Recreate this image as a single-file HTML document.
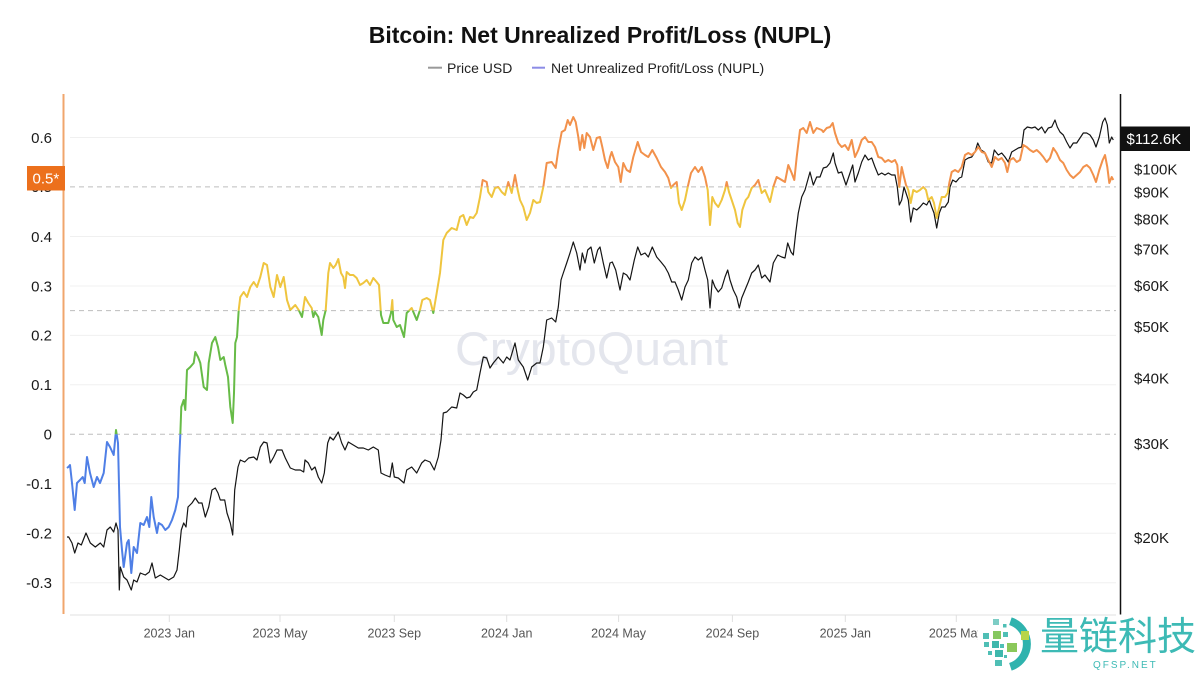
<!DOCTYPE html>
<html>
<head>
<meta charset="utf-8">
<style>
  html,body{margin:0;padding:0;background:#fff;}
  svg{display:block;}
  text{font-family:"Liberation Sans",Arial,sans-serif;}
</style>
</head>
<body>
<svg width="1200" height="675" viewBox="0 0 1200 675" xmlns="http://www.w3.org/2000/svg">
  <defs>
    <clipPath id="cOr"><rect x="0" y="0" width="1200" height="186.9"/></clipPath>
    <clipPath id="cYe"><rect x="0" y="186.9" width="1200" height="123.7"/></clipPath>
    <clipPath id="cGr"><rect x="0" y="310.6" width="1200" height="123.7"/></clipPath>
    <clipPath id="cBl"><rect x="0" y="434.3" width="1200" height="300"/></clipPath>
    <polyline id="nupl" fill="none" stroke-width="2" stroke-linejoin="round" points="67,468 68.7,466.7 70,465 72,483 74.7,510 77,483 80,480 82.7,477 84.7,483 87,457 90,473 93.7,487 97,477 100,483 103.7,473 107,442 110,447 113.7,455 116,430 118,443 120,527 122,550 123.7,567 127,543 128.7,540 131.3,573 133.7,547 137,553 140.3,523 143.7,525 147,517 149.3,527 151.3,497 153.7,517 157,533 158.7,523 162,525 165.3,530 168.7,527 172,520 175.3,510 178,497 179.3,457 180.3,435 181.3,407 183.7,400 185.3,410 187,370 190.3,367 193.7,363 195.3,352 198,357 200.3,363 203.7,387 207,390 208.7,363 212,343 215.3,337 218,347 220.3,360 223.7,357 225.3,365 228,377 230.3,407 232.7,423 234,393 235.3,343 237,337 238.7,310 240.3,297 243.7,292 247,297 250.3,287 253.7,282 257,287 260.3,277 263.7,263 267,265 270.3,287 273.7,297 277,275 280.3,287 283.7,277 287,300 290.3,310 295.3,305 298.7,310 302,317 305,297 308.3,303 311.7,308 313.3,317 315,312 318.3,317 321.7,335 323.3,320 325.7,310 328.3,273 330,263 333.3,268 335.7,265 338.3,259 341,273 343.3,277 345,288 346.7,272 350,275 353.3,275 356.7,278 360,285 363.3,283 366.7,280 370,285 373.3,278 376.7,282 379,285 381,315 383.3,323 388.3,323 391,313 392.3,300 393.3,320 396.7,327 400,325 404,337 406.7,313 411.7,308 416.7,320 420,310 422.3,300 426.7,298 430,300 433.3,313 436.7,293 440,273 443.3,240 446.7,233 451.7,228 456.7,230 460,217 463.3,215 466.7,225 470,217 473.3,218 476.7,213 480,197 482.7,180 486.7,182 488.3,192 491.7,197 495,188 498.3,187 501.7,192 505,195 508.3,182 511.7,193 515,175 517.7,190 520,200 523.3,207 526.7,220 530,213 533.3,200 536.7,203 540,202 543.3,187 546.7,163 551.7,162 555.7,168 558.3,150 561.7,132 565,130 567.7,120 570,125 573.3,117 575.7,122 578.3,137 580,150 582.3,135 584.3,148 586.7,133 590,137 593.3,150 596.7,138 600,137 602.3,147 605,160 607.7,168 610,157 611.7,152 615,162 618.3,167 620.7,182 623.3,163 626.7,170 630,172 633.3,157 637.7,142 641,152 645,155 648.3,157 652.3,150 656.7,158 661,167 665,172 668.3,178 671,188 673.3,185 676.7,182 679,203 681.7,210 685,200 687.7,187 691,173 695,167 698.3,172 701.7,167 705,177 707.7,190 710,225 712.3,197 715,203 718.3,207 721.7,200 725,190 726.7,182 729,192 731.7,200 735,210 737.7,223 740,227 742.3,210 745.7,200 748.3,197 751.7,188 755,185 758.3,180 761.7,193 765,190 770,202 773.3,187 776.7,177 781.7,180 785,182 788.3,165 791.7,173 794.3,180 796.7,157 800,130 803.3,128 806.7,133 810,122 813.3,133 816.7,128 821.7,130 823.3,132 826.7,128 830,127 832.7,123 835,133 838.3,143 841.7,147 845,145 848.3,150 851.7,140 855,157 858.3,150 861.7,140 865,137 868.3,142 871.7,142 875,147 878.3,157 881.7,158 885,162 888.3,160 891.7,162 895,160 897.3,165 899.3,187 901.7,167 904,177 906,185 908.3,190 910.7,203 913.3,190 916.7,192 920,190 923.3,187 926,190 928.3,200 931.7,197 934,203 936.7,218 939.3,207 941.7,197 945,197 947.7,193 949.3,183 951.7,172 955,170 958.3,172 961.7,167 965,155 968.3,153 971.7,155 975,152 978.3,147 981.7,152 985,153 988.3,160 991.7,167 995,157 998.3,160 1001.7,158 1005,163 1007.3,172 1010,160 1013.3,158 1016.7,162 1020,160 1023.3,145 1026.7,147 1030,150 1033.3,152 1036.7,150 1040,153 1043.3,157 1046.7,162 1050,158 1053.3,148 1056.7,153 1060,160 1063.3,163 1066.7,170 1070,175 1073.3,178 1076.7,175 1080,172 1083.3,167 1086.7,165 1090,168 1093.3,175 1096,182 1099.3,170 1102.7,160 1105,155 1107.3,167 1109.3,183 1111.7,177 1113.3,180"/>
  </defs>

  <!-- Title & legend -->
  <text x="600" y="43" text-anchor="middle" font-size="23" font-weight="bold" fill="#111">Bitcoin: Net Unrealized Profit/Loss (NUPL)</text>
  <line x1="428" y1="67.7" x2="442" y2="67.7" stroke="#999" stroke-width="2"/>
  <text x="447" y="73" font-size="14" fill="#222">Price USD</text>
  <line x1="532" y1="67.7" x2="545" y2="67.7" stroke="#8c8ce6" stroke-width="2"/>
  <text x="551" y="73" font-size="14" fill="#222">Net Unrealized Profit/Loss (NUPL)</text>

  <!-- grid lines -->
  <g stroke="#f0f0f0" stroke-width="1">
    <line x1="70" y1="137.5" x2="1116" y2="137.5"/>
    <line x1="70" y1="236.5" x2="1116" y2="236.5"/>
    <line x1="70" y1="286" x2="1116" y2="286"/>
    <line x1="70" y1="335.4" x2="1116" y2="335.4"/>
    <line x1="70" y1="384.8" x2="1116" y2="384.8"/>
    <line x1="70" y1="483.8" x2="1116" y2="483.8"/>
    <line x1="70" y1="533.2" x2="1116" y2="533.2"/>
    <line x1="70" y1="582.7" x2="1116" y2="582.7"/>
  </g>
  <g stroke="#bdbdbd" stroke-width="1" stroke-dasharray="5,4">
    <line x1="70" y1="186.9" x2="1116" y2="186.9"/>
    <line x1="70" y1="310.6" x2="1116" y2="310.6"/>
    <line x1="70" y1="434.3" x2="1116" y2="434.3"/>
  </g>

  <!-- watermark -->
  <text x="455" y="365" font-size="47" fill="#e4e6ed" textLength="273" lengthAdjust="spacingAndGlyphs">CryptoQuant</text>

  <!-- price -->
  <polyline fill="none" stroke="#151515" stroke-width="1.2" stroke-linejoin="round" points="67,537 68.7,537 72,543 74.7,553 78,543 81.3,545 86,533 90.3,543 95.3,547 100.3,543 103.7,547 107,530 110.3,527 113.7,532 116,523 118,530 119.3,590 120.3,567 123.7,577 127,580 131.3,590 133.7,580 137,582 140.3,573 145.3,575 149.3,572 152,563 155.3,578 160.3,575 165.3,578 168.7,580 173.7,577 177,570 179.3,550 181.3,530 183.7,523 186,527 188,507 192,503 195.3,498 198.7,503 202,503 205.3,517 208.7,507 212,490 215.3,488 218,493 220.3,500 224.7,500 227,513 230.3,523 232.7,535 234.7,490 238,467 240.3,460 244.7,462 248.7,458 253.7,457 257,460 260.3,447 263.7,442 267,443 270.3,463 273.7,457 277,450 282,450 285.3,458 290.3,468 295.3,470 300.3,470 303.7,472 305,460 308.3,463 311.7,470 315,467 318.3,477 321.7,483 324.3,473 327.7,443 330,437 333.3,440 338.3,432 341.7,443 345,450 348.3,442 353.3,445 358.3,448 363.3,448 368.3,450 373.3,447 378.3,450 381,473 385,475 390,477 392.3,463 394.3,477 398.3,478 404,483 406.7,470 411.7,467 416.7,473 421.7,463 425,460 430,462 434.3,470 438.3,457 441,440 443.3,413 446.7,412 451.7,407 456.7,408 460,393 463.3,395 466.7,398 470,397 473.3,392 476.7,390 480,373 483.3,357 486.7,358 490,368 493.3,363 498.3,357 503.3,363 506.7,357 510,360 515,343 518.3,360 523.3,367 527.7,380 531.7,367 536.7,363 540,363 543.3,347 546.7,320 551.7,318 555.7,322 558.3,307 561,280 563.3,273 566.7,263 570,253 573.3,242 576.7,253 580,270 582.3,253 585,263 587.7,250 591,247 594.3,263 597.7,250 600,247 603.3,263 606.7,278 610,263 612.3,262 615.7,270 620,290 623.3,273 626.7,275 630,280 634.3,260 637.7,247 641,255 645,253 648.3,257 652.3,247 656.7,257 661,262 665,267 668.3,273 671.7,282 675,282 678.3,290 681.7,300 685,287 688.3,280 691.7,263 695,257 698.3,260 701.7,257 705,270 707.7,280 710,308 712.3,280 715,287 718.3,292 721.7,288 725,277 727.7,270 730,280 733.3,290 736.7,297 739.3,308 741.7,298 745,290 748.3,282 751.7,273 755,270 758.3,265 761.7,278 765,275 770,282 773.3,263 777.7,255 781.7,257 785,258 787.7,243 791,252 793.3,255 795.7,233 798.3,213 801.7,197 805,190 810,172 813.3,185 816.7,177 820,177 823.3,168 826.7,167 830,163 833.3,153 835,163 838.3,173 841.7,172 846,185 850,173 852.7,165 855,182 858.3,173 861.7,162 865,155 868.3,160 871.7,158 875,167 878.3,175 881.7,173 885,175 888.3,173 891.7,175 895,175 897.3,187 899.3,205 901.7,200 904,187 906,193 908.3,200 910.7,222 913.3,208 916.7,210 920,207 923.3,203 926.7,205 929.3,200 931.7,207 934,213 936.7,228 939.3,213 941.7,207 945,207 948.3,202 950,187 952.7,180 956,182 959.3,178 961.7,177 965,160 968.3,158 971.7,157 975,152 977.7,143 981,150 984.3,152 988.3,162 991.7,163 994.3,150 998.3,155 1001.7,153 1005,157 1008.3,162 1011.7,152 1015,150 1018.3,148 1021.7,147 1024,130 1027.3,127 1031.7,128 1035,127 1038.3,130 1041.7,127 1045,133 1048.3,128 1051.7,127 1055,120 1057.3,127 1060,132 1063.3,135 1066.7,142 1070,148 1073.3,143 1076.7,143 1080,138 1083.3,133 1086.7,133 1090,135 1093.3,140 1096,147 1099.3,137 1102.7,122 1105,118 1107.3,125 1109.3,143 1111.7,137 1113.3,140"/>

  <!-- NUPL colored by zone -->
  <use href="#nupl" stroke="#f2914b" clip-path="url(#cOr)"/>
  <use href="#nupl" stroke="#efc53f" clip-path="url(#cYe)"/>
  <use href="#nupl" stroke="#67bb47" clip-path="url(#cGr)"/>
  <use href="#nupl" stroke="#4f7fe6" clip-path="url(#cBl)"/>

  <!-- left axis -->
  <line x1="63.5" y1="94" x2="63.5" y2="614" stroke="#f0a66c" stroke-width="2"/>
  <g font-size="15" fill="#1a1a1a" text-anchor="end">
    <text x="52" y="142.8">0.6</text>
    <text x="52" y="192.2">0.5</text>
    <text x="52" y="241.8">0.4</text>
    <text x="52" y="291.3">0.3</text>
    <text x="52" y="340.7">0.2</text>
    <text x="52" y="390.1">0.1</text>
    <text x="52" y="439.6">0</text>
    <text x="52" y="489.1">-0.1</text>
    <text x="52" y="538.5">-0.2</text>
    <text x="52" y="588">-0.3</text>
  </g>
  <rect x="27" y="166" width="38" height="24.5" fill="#ec701c"/>
  <text x="32.5" y="183.5" font-size="15" fill="#fff">0.5*</text>

  <!-- right axis -->
  <line x1="1120.5" y1="94" x2="1120.5" y2="614.5" stroke="#111" stroke-width="1.5"/>
  <g font-size="15" fill="#1a1a1a">
    <text x="1134" y="174.3">$100K</text>
    <text x="1134" y="197.3">$90K</text>
    <text x="1134" y="224.6">$80K</text>
    <text x="1134" y="254.6">$70K</text>
    <text x="1134" y="291">$60K</text>
    <text x="1134" y="332">$50K</text>
    <text x="1134" y="383.6">$40K</text>
    <text x="1134" y="448.8">$30K</text>
    <text x="1134" y="543">$20K</text>
  </g>
  <rect x="1121" y="126.5" width="69" height="24.5" fill="#111"/>
  <text x="1126.5" y="144.2" font-size="15" fill="#fff">$112.6K</text>

  <!-- x axis -->
  <line x1="70" y1="615" x2="1116" y2="615" stroke="#e0e0e0" stroke-width="1"/>
  <g stroke="#e0e0e0" stroke-width="1">
    <line x1="169.3" y1="615" x2="169.3" y2="622"/>
    <line x1="280" y1="615" x2="280" y2="622"/>
    <line x1="394.3" y1="615" x2="394.3" y2="622"/>
    <line x1="506.7" y1="615" x2="506.7" y2="622"/>
    <line x1="618.6" y1="615" x2="618.6" y2="622"/>
    <line x1="732.4" y1="615" x2="732.4" y2="622"/>
    <line x1="845.3" y1="615" x2="845.3" y2="622"/>
    <line x1="956.3" y1="615" x2="956.3" y2="622"/>
  </g>
  <g font-size="12.5" fill="#555" text-anchor="middle">
    <text x="169.3" y="637.5">2023 Jan</text>
    <text x="280" y="637.5">2023 May</text>
    <text x="394.3" y="637.5">2023 Sep</text>
    <text x="506.7" y="637.5">2024 Jan</text>
    <text x="618.6" y="637.5">2024 May</text>
    <text x="732.4" y="637.5">2024 Sep</text>
    <text x="845.3" y="637.5">2025 Jan</text>
    <text x="956.3" y="637.5">2025 May</text>
  </g>

  <!-- bottom-right logo overlay -->
  <rect x="978" y="615.5" width="222" height="60" fill="#fff"/>
  <path d="M1010.4,621.2 A24,24 0 0 1 1010.4,666.8" fill="none" stroke="#2fb3ae" stroke-width="8"/>
  <g>
    <rect x="993" y="619" width="6" height="6" fill="#7dcdc5"/>
    <rect x="1003" y="624" width="3.5" height="3.5" fill="#4fbfb5"/>
    <rect x="983" y="633" width="6" height="6" fill="#4fbfb5"/>
    <rect x="993" y="631" width="8" height="8" fill="#86c860"/>
    <rect x="1003" y="632" width="5" height="5" fill="#4fbfb5"/>
    <rect x="1021" y="631" width="8" height="9" fill="#b7d54a"/>
    <rect x="984" y="642" width="5" height="5" fill="#4fbfb5"/>
    <rect x="992" y="641" width="7" height="7" fill="#3fb8ad"/>
    <rect x="1000" y="644" width="4" height="4" fill="#4fbfb5"/>
    <rect x="1007" y="643" width="10" height="9" fill="#8bc85a"/>
    <rect x="988" y="651" width="4" height="4" fill="#4fbfb5"/>
    <rect x="995" y="650" width="8" height="7" fill="#3fb8ad"/>
    <rect x="995" y="660" width="7" height="6" fill="#4fbfb5"/>
    <rect x="1004" y="655" width="3" height="3" fill="#4fbfb5"/>
  </g>
  <text x="1040" y="650" font-size="39" fill="#3dbab5" style="font-family:'Liberation Sans','Noto Sans CJK SC',sans-serif;">量链科技</text>
  <text x="1093" y="668" font-size="10" fill="#3dbab5" letter-spacing="2">QFSP.NET</text>
</svg>
</body>
</html>
